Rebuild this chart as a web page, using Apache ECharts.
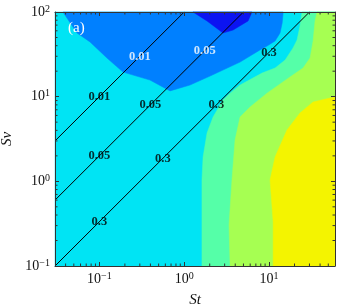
<!DOCTYPE html>
<html>
<head>
<meta charset="utf-8">
<script src="https://cdn.jsdelivr.net/npm/echarts@6/dist/echarts.min.js"></script>
<style>html,body{margin:0;padding:0;background:#fff}#c{width:340px;height:305px}</style>
</head>
<body>
<div id="c"></div>
<script>
// Axis ranges
const stRange = [0.03, 60];
const svRange = [0.1, 100];
// Minor tick values
const stMinor = [0.04,0.05,0.06,0.07,0.08,0.09,0.2,0.3,0.4,0.5,0.6,0.7,0.8,0.9,2,3,4,5,6,7,8,9,20,30,40,50];
const svMinor = [0.2,0.3,0.4,0.5,0.6,0.7,0.8,0.9,2,3,4,5,6,7,8,9,20,30,40,50,60,70,80,90];
// Filled contour regions, vertices as [St, Sv]
const cyanRegion = [[0.03,0.1],[0.03,100],[60,100],[60,0.1]];
const mediumBlueRegion = [[0.0372,100],[0.0545,56.5],[0.0776,44.3],[0.123,28.6],[0.190,19.5],[0.395,15.7],[0.681,11.7],[1.17,13.7],[2.02,17.5],[4.56,25.6],[7.83,35.6],[9.48,39.6],[11.8,45.4],[13.5,56.5],[14.3,74.1],[14.7,100]];
const darkBlueRegion = [[1.27,100],[1.86,78.3],[2.87,56.5],[3.77,61.2],[5.66,78.3],[6.31,100]];
const aquamarineRegion = [[1.62,0.1],[1.62,1.04],[1.67,1.94],[1.86,3.72],[2.19,5.75],[2.87,9.14],[3.48,11.0],[4.56,13.7],[8.28,19.0],[11.8,21.8],[15.5,27.1],[19.2,37.6],[21.4,46.7],[23.2,68.4],[24.5,100],[60,100],[60,0.1]];
const yellowGreenRegion = [[3.48,0.1],[3.38,0.305],[3.66,1.04],[3.98,3.08],[4.56,5.75],[5.98,7.55],[9.48,11.0],[17.7,17.1],[25.2,21.8],[30.5,28.6],[33.1,45.4],[34.9,78.3],[36.9,100],[60,100],[60,0.1]];
const yellowRegion = [[11.2,0.1],[11.2,0.331],[10.3,1.04],[11.8,1.94],[16.3,4.04],[23.2,6.41],[33.1,8.65],[52.5,9.64],[60,9.9],[60,0.1]];
// Reference lines St/Sv = const
const line001 = [[0.03,3],[1,100]];
const line005 = [[0.03,0.6],[5,100]];
const line03 = [[0.03,0.1],[30,100]];
// Contour labels [St, Sv, text, onDark]
const labelPoints = [
  [0.1,10,'0.01',0],[0.3,30,'0.01',1],
  [0.1,2,'0.05',0],[0.4,8,'0.05',0],[1.75,35,'0.05',1],
  [0.1,0.333,'0.3',0],[0.56,1.87,'0.3',0],[2.4,8,'0.3',0],[10,33.3,'0.3',0]
];

const FONT = "'Liberation Serif','DejaVu Serif',serif";
const regions = [
  [cyanRegion,'#00e4f4'],
  [mediumBlueRegion,'#0080ff'],
  [darkBlueRegion,'#0c14f2'],
  [aquamarineRegion,'#55ffa8'],
  [yellowGreenRegion,'#a6ff52'],
  [yellowRegion,'#f4f400']
];
function supLabel(v){
  const e = Math.log10(v);
  const r = Math.round(e);
  if (Math.abs(e - r) > 1e-6) return '';
  return '{b|10}{s|' + (r < 0 ? '\u2212' + (-r) : r) + '}';
}
const rich = {
  b:{fontFamily:FONT,fontSize:14,color:'#111',lineHeight:16},
  s:{fontFamily:FONT,fontSize:10,color:'#111',verticalAlign:'top',lineHeight:16,padding:[0,0,7,0]}
};
const series = [];
regions.forEach(([pts,color]) => {
  series.push({type:'custom',silent:true,z:1,data:[[stRange[0],svRange[0]]],
    renderItem:(p,api)=>({type:'polygon',shape:{points:pts.map(q=>api.coord(q))},style:{fill:color,stroke:color,lineWidth:0.5}})});
});
[line001,line005,line03].forEach(d => {
  series.push({type:'line',data:d,symbol:'none',silent:true,z:3,lineStyle:{color:'#000',width:1}});
});
series.push({type:'scatter',z:4,silent:true,symbolSize:0,
  data:labelPoints.map(l=>({value:[l[0],l[1]],name:l[2],label:{color:l[3]?'#fff':'#000'}})),
  label:{show:true,position:'inside',formatter:p=>p.name,fontFamily:FONT,fontSize:12.5,fontWeight:'bold'},
  itemStyle:{color:'transparent'}});
series.push({type:'custom',silent:true,z:6,data:stMinor.map(v=>[v,svRange[0]]),
  renderItem:(p,api)=>{const v=api.value(0);const a=api.coord([v,svRange[0]]);const b=api.coord([v,svRange[1]]);
    return {type:'group',children:[
      {type:'line',shape:{x1:a[0],y1:a[1],x2:a[0],y2:a[1]-2.5},style:{stroke:'#333',lineWidth:1}},
      {type:'line',shape:{x1:b[0],y1:b[1],x2:b[0],y2:b[1]+2.5},style:{stroke:'#333',lineWidth:1}}]};}});
series.push({type:'custom',silent:true,z:6,data:svMinor.map(v=>[stRange[0],v]),
  renderItem:(p,api)=>{const v=api.value(1);const a=api.coord([stRange[0],v]);const b=api.coord([stRange[1],v]);
    return {type:'group',children:[
      {type:'line',shape:{x1:a[0],y1:a[1],x2:a[0]+2.5,y2:a[1]},style:{stroke:'#333',lineWidth:1}},
      {type:'line',shape:{x1:b[0],y1:b[1],x2:b[0]-2.5,y2:b[1]},style:{stroke:'#333',lineWidth:1}}]};}});

const axLine = {show:true,lineStyle:{color:'#333',width:1}};
const option = {
  animation:false,
  backgroundColor:'#fff',
  grid:{left:55,right:5,top:12,bottom:39,containLabel:false,outerBoundsMode:'none'},
  xAxis:[
    {type:'log',min:stRange[0],max:stRange[1],z:10,axisLine:axLine,
     axisTick:{inside:true,length:4,lineStyle:{color:'#333'}},splitLine:{show:false},
     axisLabel:{formatter:supLabel,rich:rich,margin:5,showMinLabel:false,showMaxLabel:false},
     name:'St',nameLocation:'middle',nameGap:21,
     nameTextStyle:{fontFamily:FONT,fontSize:15,fontStyle:'italic',color:'#111'}},
    {type:'log',min:stRange[0],max:stRange[1],position:'top',z:10,axisLine:axLine,
     axisTick:{inside:true,length:4,lineStyle:{color:'#333'}},splitLine:{show:false},axisLabel:{show:false}}
  ],
  yAxis:[
    {type:'log',min:svRange[0],max:svRange[1],z:10,axisLine:axLine,
     axisTick:{inside:true,length:4,lineStyle:{color:'#333'}},splitLine:{show:false},
     axisLabel:{formatter:supLabel,rich:rich,margin:5},
     name:'Sv',nameLocation:'middle',nameGap:28,
     nameTextStyle:{fontFamily:FONT,fontSize:15,fontStyle:'italic',color:'#111'}},
    {type:'log',min:svRange[0],max:svRange[1],position:'right',z:10,axisLine:axLine,
     axisTick:{inside:true,length:4,lineStyle:{color:'#333'}},splitLine:{show:false},axisLabel:{show:false}}
  ],
  graphic:[{type:'text',left:68,top:21,z:20,style:{text:'(a)',fill:'#fff',font:"15px 'Liberation Serif', serif"}}],
  series:series
};
const chart = echarts.init(document.getElementById('c'),null,{renderer:'canvas'});
chart.setOption(option);
</script>
</body>
</html>
